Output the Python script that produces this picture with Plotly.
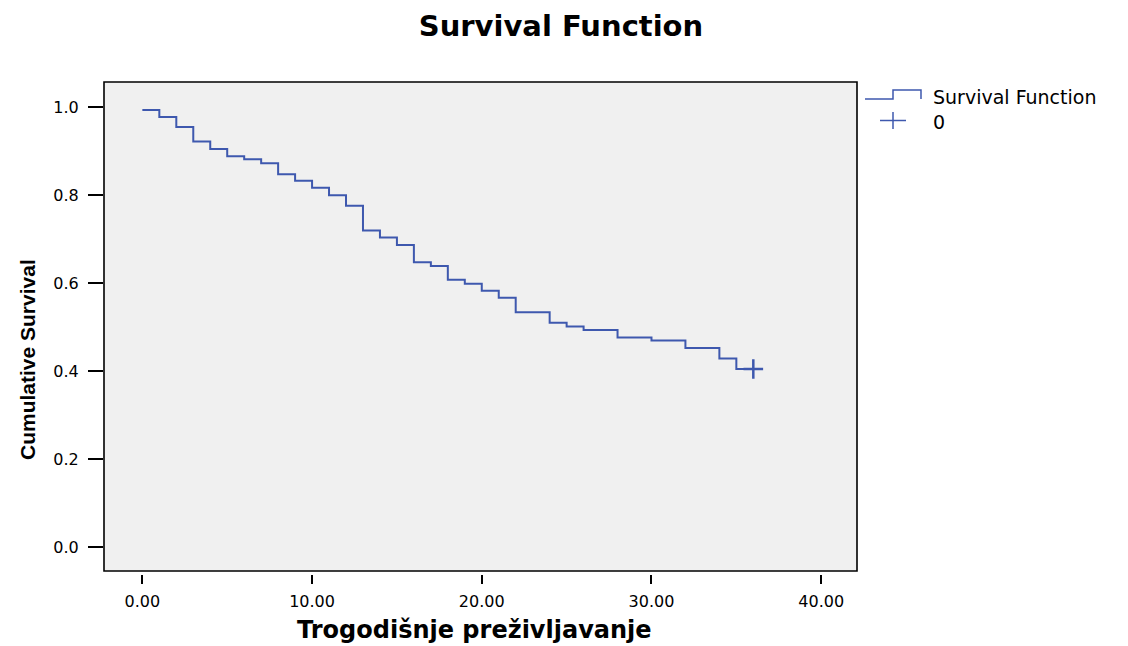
import plotly.graph_objects as go

# ---- data ----
times = [0, 1, 2, 3, 4, 5, 6, 7, 8, 9, 10, 11, 12, 13, 14, 15, 16, 17, 18, 19, 20,
         21, 22, 24, 25, 26, 28, 30, 32, 34, 35, 36]
surv = [0.994, 0.978, 0.955, 0.922, 0.905, 0.889, 0.882, 0.873, 0.848, 0.833, 0.817,
        0.800, 0.776, 0.720, 0.704, 0.687, 0.648, 0.639, 0.608, 0.599, 0.583, 0.567,
        0.534, 0.510, 0.502, 0.494, 0.477, 0.470, 0.453, 0.429, 0.405, 0.405]
censor_time = [36]
censor_surv = [0.405]
x_ticks = [0, 10, 20, 30, 40]
y_ticks = [0.0, 0.2, 0.4, 0.6, 0.8, 1.0]

OFF = 8  # page body margin
W, H = 1128 - OFF, 646 - OFF
ML, MR, MT, MB = 104 - OFF, 271, 82 - OFF, 72
PW = W - ML - MR
PH = H - MT - MB
BLUE = "#3E58AE"
FONT = "DejaVu Sans"


def px_x(X):
    return (X - OFF - ML) / PW


def px_y(Y):
    return (H - MB - (Y - OFF)) / PH


fig = go.Figure()
fig.add_trace(go.Scatter(x=times, y=surv, mode="lines", line_shape="hv",
                         line=dict(color=BLUE, width=2), showlegend=False,
                         hoverinfo="skip"))
fig.add_trace(go.Scatter(x=censor_time, y=censor_surv, mode="markers",
                         marker=dict(symbol="cross-thin", size=14,
                                     line=dict(color=BLUE, width=2.5)),
                         showlegend=False, hoverinfo="skip"))

# plot border
fig.add_shape(type="rect", xref="x domain", yref="y domain", x0=0, x1=1, y0=0, y1=1,
              line=dict(color="black", width=1.6), layer="above")

# custom legend
lx = [865, 893, 893, 921, 921]
ly = [99, 99, 90, 90, 99]
path = "M " + " L ".join(f"{px_x(a):.5f},{px_y(b):.5f}" for a, b in zip(lx, ly))
fig.add_shape(type="path", xref="paper", yref="paper", path=path,
              line=dict(color=BLUE, width=1.5))
fig.add_shape(type="line", xref="paper", yref="paper",
              x0=px_x(880), x1=px_x(906), y0=px_y(120.5), y1=px_y(120.5),
              line=dict(color=BLUE, width=1.5))
fig.add_shape(type="line", xref="paper", yref="paper",
              x0=px_x(893), x1=px_x(893), y0=px_y(112), y1=px_y(129),
              line=dict(color=BLUE, width=1.5))
fig.add_annotation(xref="paper", yref="paper", x=px_x(931), y=px_y(97),
                   xanchor="left", yanchor="middle", showarrow=False,
                   text="Survival Function", font=dict(family=FONT, size=19, color="black"))
fig.add_annotation(xref="paper", yref="paper", x=px_x(931), y=px_y(122),
                   xanchor="left", yanchor="middle", showarrow=False,
                   text="0", font=dict(family=FONT, size=19, color="black"))

# axis titles
fig.add_annotation(xref="paper", yref="paper", x=px_x(474), y=px_y(630),
                   xanchor="center", yanchor="middle", showarrow=False,
                   text="<b>Trogodišnje preživljavanje</b>",
                   font=dict(family=FONT, size=24, color="black"))
fig.add_annotation(xref="paper", yref="paper", x=px_x(27), y=px_y(360),
                   xanchor="center", yanchor="middle", showarrow=False, textangle=-90,
                   text="<b>Cumulative Survival</b>",
                   font=dict(family="Liberation Sans, Arial, sans-serif",
                             size=21, color="black"))

fig.update_layout(
    width=W, height=H,
    margin=dict(l=ML, r=MR, t=MT, b=MB, pad=0),
    paper_bgcolor="white",
    plot_bgcolor="#F0F0F0",
    title=dict(text="<b>Survival Function</b>", xref="container", yref="container",
               x=(561 - OFF) / W, y=1 - (26 - OFF) / H, xanchor="center", yanchor="middle",
               font=dict(family=FONT, size=29, color="black")),
    xaxis=dict(range=[-2.26, 42.11], tickvals=x_ticks, tickformat=".2f",
               showgrid=False, zeroline=False, showline=False,
               ticks="outside", ticklen=9, tickwidth=2, tickcolor="black",
               anchor="free", position=0, ticklabelstandoff=4,
               tickfont=dict(family=FONT, size=16, color="black")),
    yaxis=dict(range=[-0.054, 1.0575], tickvals=y_ticks, tickformat=".1f",
               domain=[3 / PH, 1],
               showgrid=False, zeroline=False, showline=False,
               ticks="outside", ticklen=15, tickwidth=2, tickcolor="black",
               ticklabelstandoff=6,
               tickfont=dict(family=FONT, size=16, color="black")),
)

fig.write_html("out.html")
